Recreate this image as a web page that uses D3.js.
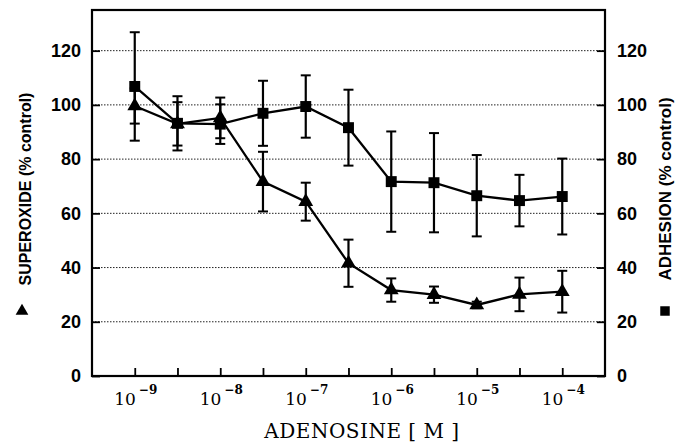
<!DOCTYPE html>
<html>
<head>
<meta charset="utf-8">
<script src="https://cdn.jsdelivr.net/npm/d3@7"></script>
<style>
  body { margin: 0; background: #fff; }
  svg text { fill: #000; }
</style>
</head>
<body>
<div id="chart"></div>
<script>
const width = 678;
const height = 447;

// adenosine concentrations [M]
const conc = [1e-9, 3.16e-9, 1e-8, 3.16e-8, 1e-7, 3.16e-7, 1e-6, 3.16e-6, 1e-5, 3.16e-5, 1e-4];
const decadeTicks = [1e-9, 1e-8, 1e-7, 1e-6, 1e-5, 1e-4];
const decadeExp = [-9, -8, -7, -6, -5, -4];
const yTicks = [0, 20, 40, 60, 80, 100, 120];

// triangles: superoxide (% control)
const superoxide = [99.6, 93, 95.2, 71.7, 64.3, 41.6, 31.7, 30, 26.2, 30.1, 31.1];
const superoxideErr = [6.5, 8, 7.5, 11, 7, 8.7, 4.3, 3, 1.2, 6.2, 7.7];
// squares: adhesion (% control)
const adhesion = [106.8, 93.2, 92.9, 96.9, 99.4, 91.6, 71.7, 71.3, 66.5, 64.7, 66.2];
const adhesionErr = [20, 10, 7.3, 12, 11.5, 14, 18.5, 18.3, 15, 9.5, 14];

const plot = {left: 92, right: 605, top: 10, bottom: 376};

const svg = d3.select('#chart').append('svg')
    .attr('width', width)
    .attr('height', height);

const x = d3.scaleLog().domain([Math.pow(10, -9.5), Math.pow(10, -3.5)]).range([plot.left, plot.right]);
const y = d3.scaleLinear().domain([0, 135]).range([plot.bottom, plot.top]);

// dotted grid
svg.append('g').selectAll('line')
    .data(yTicks.filter(d => d > 0))
    .enter().append('line')
    .attr('x1', plot.left).attr('x2', plot.right)
    .attr('y1', d => y(d)).attr('y2', d => y(d))
    .attr('stroke', '#222')
    .attr('stroke-width', 1)
    .attr('stroke-dasharray', '1.5,1.5');

// axes, ticks pointing inward
const sansFont = 'Liberation Sans, Arial, sans-serif';
const leftAxis = svg.append('g')
    .attr('transform', `translate(${plot.left},0)`)
    .call(d3.axisLeft(y).tickValues(yTicks).tickSize(-8).tickPadding(11));
const rightAxis = svg.append('g')
    .attr('transform', `translate(${plot.right},0)`)
    .call(d3.axisRight(y).tickValues(yTicks).tickSize(-8).tickPadding(12));
const bottomAxis = svg.append('g')
    .attr('transform', `translate(0,${plot.bottom})`)
    .call(d3.axisBottom(x).tickValues(conc).tickSize(-8).tickFormat(''));

[leftAxis, rightAxis, bottomAxis].forEach(a => {
    a.select('.domain').remove();
    a.selectAll('.tick line').attr('stroke', '#000').attr('stroke-width', 1.8);
    a.selectAll('.tick text')
        .attr('font-family', sansFont)
        .attr('font-size', 18)
        .attr('font-weight', 'bold')
        .attr('fill', '#000');
});

// frame
svg.append('rect')
    .attr('x', plot.left).attr('y', plot.top)
    .attr('width', plot.right - plot.left)
    .attr('height', plot.bottom - plot.top)
    .attr('fill', 'none')
    .attr('stroke', '#000')
    .attr('stroke-width', 2.2);

// decade labels 10^n
const serifFont = 'DejaVu Serif, Liberation Serif, serif';
decadeTicks.forEach((t, i) => {
    const lbl = svg.append('text')
        .attr('x', x(t) + 1)
        .attr('y', 405)
        .attr('text-anchor', 'middle')
        .attr('font-family', serifFont)
        .attr('font-size', 17);
    lbl.append('tspan').text('10');
    lbl.append('tspan')
        .attr('dx', 3)
        .attr('dy', -11)
        .attr('font-size', 12)
        .attr('font-weight', 'bold')
        .text('\u2212' + Math.abs(decadeExp[i]));
});

svg.append('text')
    .attr('x', 362)
    .attr('y', 438)
    .attr('text-anchor', 'middle')
    .attr('font-family', serifFont)
    .attr('font-size', 20)
    .attr('letter-spacing', 0.5)
    .text('ADENOSINE [ M ]');

// y axis titles
svg.append('text')
    .attr('transform', 'translate(31,189) rotate(-90)')
    .attr('text-anchor', 'middle')
    .attr('font-family', sansFont)
    .attr('font-size', 16)
    .attr('font-weight', 'bold')
    .text('SUPEROXIDE (% control)');
svg.append('path')
    .attr('transform', 'translate(22,311)')
    .attr('d', d3.symbol().type(d3.symbolTriangle).size(70)());

svg.append('text')
    .attr('transform', 'translate(671,189) rotate(-90)')
    .attr('text-anchor', 'middle')
    .attr('font-family', sansFont)
    .attr('font-size', 17)
    .attr('font-weight', 'bold')
    .text('ADHESION (% control)');
svg.append('path')
    .attr('transform', 'translate(665,311)')
    .attr('d', d3.symbol().type(d3.symbolSquare).size(90)());

// series
function drawSeries(values, errs, symbolType, symbolSize) {
    const pts = conc.map((c, i) => ({c: c, v: values[i], e: errs[i]}));
    const g = svg.append('g');
    g.append('path')
        .datum(pts)
        .attr('fill', 'none')
        .attr('stroke', '#000')
        .attr('stroke-width', 2.3)
        .attr('d', d3.line().x(d => x(d.c)).y(d => y(d.v)));
    const eb = g.selectAll('.eb').data(pts).enter().append('g').attr('class', 'eb');
    eb.append('line')
        .attr('x1', d => x(d.c)).attr('x2', d => x(d.c))
        .attr('y1', d => y(d.v - d.e)).attr('y2', d => y(d.v + d.e))
        .attr('stroke', '#000').attr('stroke-width', 2.2);
    [-1, 1].forEach(s => {
        eb.append('line')
            .attr('x1', d => x(d.c) - 5).attr('x2', d => x(d.c) + 5)
            .attr('y1', d => y(d.v + s * d.e)).attr('y2', d => y(d.v + s * d.e))
            .attr('stroke', '#000').attr('stroke-width', 2);
    });
    g.selectAll('.mk').data(pts).enter().append('path')
        .attr('class', 'mk')
        .attr('transform', d => `translate(${x(d.c)},${y(d.v)})`)
        .attr('d', d3.symbol().type(symbolType).size(symbolSize)())
        .attr('fill', '#000');
}

drawSeries(adhesion, adhesionErr, d3.symbolSquare, 120);
drawSeries(superoxide, superoxideErr, d3.symbolTriangle, 95);
</script>
</body>
</html>
